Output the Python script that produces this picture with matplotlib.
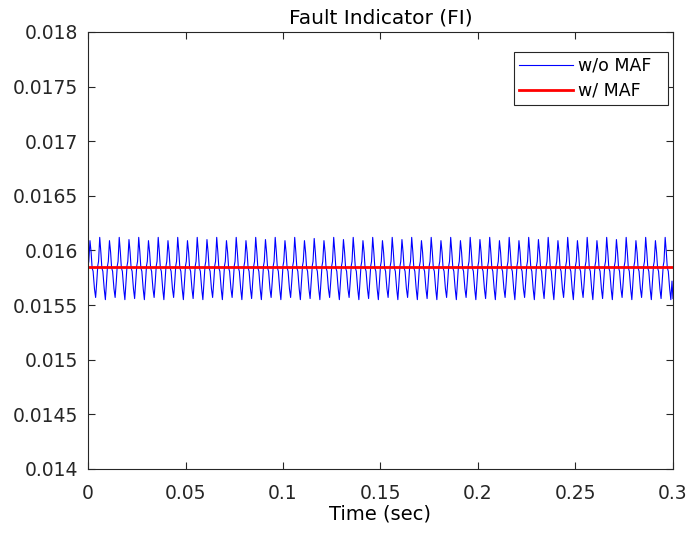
import numpy as np
import matplotlib
matplotlib.use("Agg")
import matplotlib.pyplot as plt

plt.rcParams.update({
    "font.family": ["DejaVu Sans"],
    "font.size": 13.5,
    "axes.linewidth": 0.8,
    "axes.edgecolor": "#262626",
    "xtick.color": "#262626",
    "ytick.color": "#262626",
    "xtick.direction": "in",
    "ytick.direction": "in",
    "xtick.top": True,
    "ytick.right": True,
})

# ---------------- data ----------------
PERIOD = 0.005          # one oscillation of the raw FI signal (s)
# sample phases inside one period (s)
PHASES = [0.0000, 0.0004, 0.0010, 0.0016, 0.0021, 0.0026, 0.0033, 0.0039, 0.0045]

# per-cycle peak / trough levels of the raw FI (w/o MAF)
PEAKS = [0.01609, 0.01612, 0.01609, 0.01612, 0.01610, 0.01612, 0.01609, 0.01612,
         0.01609, 0.01612, 0.01609, 0.01612, 0.01610, 0.01612, 0.01609, 0.01612,
         0.01609, 0.01612, 0.01610, 0.01612, 0.01609, 0.01612, 0.01609, 0.01611,
         0.01609, 0.01612, 0.01610, 0.01612, 0.01609, 0.01612, 0.01609, 0.01612,
         0.01610, 0.01612, 0.01609, 0.01612, 0.01609, 0.01612, 0.01609, 0.01612,
         0.01610, 0.01612, 0.01609, 0.01612, 0.01609, 0.01612, 0.01610, 0.01612,
         0.01609, 0.01612, 0.01609, 0.01612, 0.01609, 0.01612, 0.01610, 0.01612,
         0.01609, 0.01612, 0.01609, 0.01612]
TROUGHS = [0.01557, 0.01555, 0.01557, 0.01555, 0.01556, 0.01555, 0.01557, 0.01555,
           0.01557, 0.01555, 0.01556, 0.01555, 0.01557, 0.01555, 0.01557, 0.01555,
           0.01556, 0.01555, 0.01557, 0.01555, 0.01557, 0.01555, 0.01556, 0.01555,
           0.01557, 0.01555, 0.01557, 0.01555, 0.01556, 0.01555, 0.01557, 0.01555,
           0.01557, 0.01555, 0.01556, 0.01555, 0.01557, 0.01555, 0.01557, 0.01555,
           0.01556, 0.01555, 0.01557, 0.01555, 0.01557, 0.01555, 0.01556, 0.01555,
           0.01557, 0.01555, 0.01557, 0.01555, 0.01556, 0.01555, 0.01557, 0.01555,
           0.01557, 0.01555, 0.01556, 0.01555]
RISE_STEP = [0.01586, 0.01590]   # small step on the rising edge
FALL_HUMP = 0.01598               # just after the peak
SHOULDER = [0.01584, 0.01581]     # plateau on the falling edge
FALL_LOW = 0.01565
RISE_LOW = 0.01572
END_VALUE = 0.01556               # last sample at t = 0.3

# moving-average-filtered FI (w/ MAF)
MAF_T = [0.0, 0.3]
MAF_V = [0.01585, 0.01585]

# assemble raw trace from the per-cycle levels
raw_t, raw_v = [], []
for k, (pk, tr) in enumerate(zip(PEAKS, TROUGHS)):
    levels = [RISE_STEP[0], RISE_STEP[1], pk, FALL_HUMP,
              SHOULDER[0], SHOULDER[1], FALL_LOW, tr, RISE_LOW]
    for ph, lv in zip(PHASES, levels):
        raw_t.append(k * PERIOD + ph)
        raw_v.append(lv)
raw_t.append(0.3)
raw_v.append(END_VALUE)

# ---------------- figure ----------------
fig = plt.figure(figsize=(6.92, 5.42), dpi=100)
ax = fig.add_axes([0.1272, 0.1347, 0.8453, 0.8063])

ax.plot(raw_t, raw_v, color="#0000FF", lw=0.8, label="w/o MAF  ")
ax.plot(MAF_T, MAF_V, color="#FF0000", lw=2.0, label="w/ MAF")

ax.set_xlim(0, 0.3)
ax.set_ylim(0.014, 0.018)
ax.set_xticks([0, 0.05, 0.1, 0.15, 0.2, 0.25, 0.3])
ax.set_xticklabels(["0", "0.05", "0.1", "0.15", "0.2", "0.25", "0.3"])
ax.set_yticks([0.014, 0.0145, 0.015, 0.0155, 0.016, 0.0165, 0.017, 0.0175, 0.018])
ax.set_yticklabels(["0.014", "0.0145", "0.015", "0.0155", "0.016",
                    "0.0165", "0.017", "0.0175", "0.018"])
ax.tick_params(length=5, width=0.8)
ax.tick_params(axis="x", pad=11)
ax.tick_params(axis="y", pad=7)

ax.set_title("Fault Indicator (FI)", fontsize=14.5, pad=6)
ax.set_xlabel("Time (sec)", fontsize=14, labelpad=1)

leg = ax.legend(loc="upper right", bbox_to_anchor=(0.9915, 0.955),
                borderaxespad=0, fontsize=12.5,
                fancybox=False, edgecolor="#262626", framealpha=1,
                handlelength=3.1, handletextpad=0.3, borderpad=0.3,
                labelspacing=0.4)
leg.get_frame().set_linewidth(0.8)

fig.savefig("out.png", dpi=100)
